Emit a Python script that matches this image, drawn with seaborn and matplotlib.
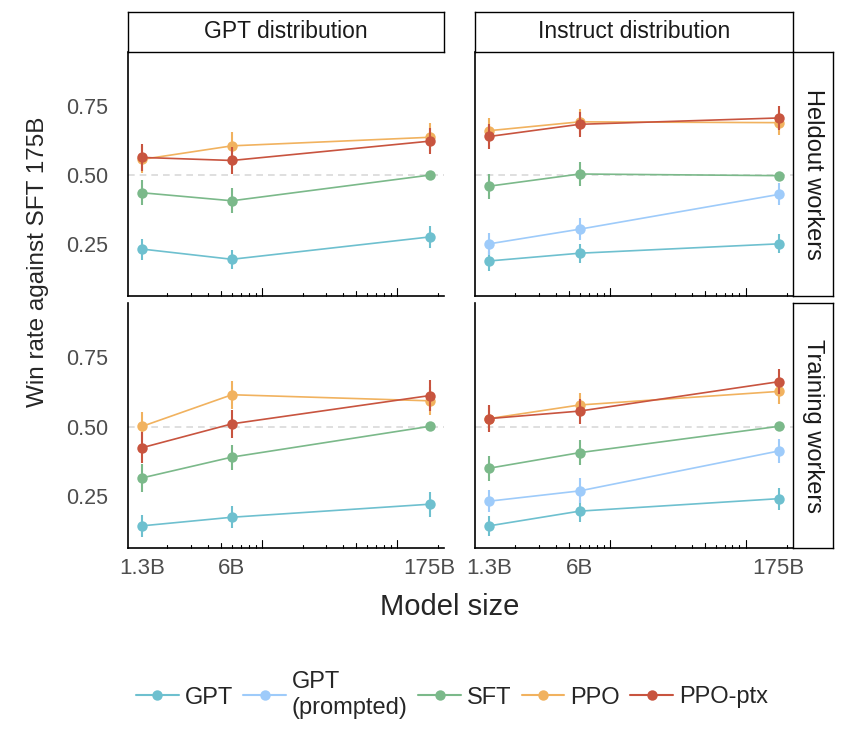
import matplotlib
matplotlib.use('Agg')
import matplotlib.pyplot as plt
import seaborn as sns
import numpy as np
import pandas as pd
from matplotlib.lines import Line2D
from matplotlib.ticker import NullLocator

# sizes on the x axis (billions of parameters)
sizes = [1.3, 6, 175]
size_labels = ['1.3B', '6B', '175B']
models = ['GPT', 'GPT (prompted)', 'SFT', 'PPO', 'PPO-ptx']
legend_labels = ['GPT', 'GPT\n(prompted)', 'SFT', 'PPO', 'PPO-ptx']
colors = ['#6EC0CF', '#9ECBFA', '#7BB98A', '#F1B25F', '#C8543F']
distributions = ['GPT distribution', 'Instruct distribution']
workers = ['Heldout workers', 'Training workers']

# win rate against SFT 175B, values for [1.3B, 6B, 175B]
gptdist_heldout = {'GPT': [0.232, 0.195, 0.276],
                   'SFT': [0.436, 0.407, 0.500],
                   'PPO': [0.557, 0.606, 0.637],
                   'PPO-ptx': [0.564, 0.553, 0.623]}
gptdist_heldout_err = {'GPT': [0.038, 0.035, 0.040],
                       'SFT': [0.045, 0.045, 0.0],
                       'PPO': [0.050, 0.050, 0.050],
                       'PPO-ptx': [0.050, 0.050, 0.047]}

instdist_heldout = {'GPT': [0.189, 0.217, 0.251],
                    'GPT (prompted)': [0.251, 0.304, 0.430],
                    'SFT': [0.460, 0.504, 0.498],
                    'PPO': [0.661, 0.693, 0.690],
                    'PPO-ptx': [0.640, 0.684, 0.707]}
instdist_heldout_err = {'GPT': [0.035, 0.035, 0.035],
                        'GPT (prompted)': [0.040, 0.040, 0.040],
                        'SFT': [0.045, 0.045, 0.0],
                        'PPO': [0.045, 0.045, 0.045],
                        'PPO-ptx': [0.045, 0.045, 0.045]}

gptdist_training = {'GPT': [0.142, 0.173, 0.220],
                    'SFT': [0.315, 0.390, 0.501],
                    'PPO': [0.501, 0.615, 0.593],
                    'PPO-ptx': [0.424, 0.510, 0.612]}
gptdist_training_err = {'GPT': [0.040, 0.040, 0.045],
                        'SFT': [0.050, 0.045, 0.0],
                        'PPO': [0.050, 0.050, 0.050],
                        'PPO-ptx': [0.055, 0.050, 0.055]}

instdist_training = {'GPT': [0.142, 0.195, 0.240],
                     'GPT (prompted)': [0.231, 0.268, 0.412],
                     'SFT': [0.350, 0.406, 0.501],
                     'PPO': [0.529, 0.578, 0.627],
                     'PPO-ptx': [0.529, 0.556, 0.662]}
instdist_training_err = {'GPT': [0.035, 0.040, 0.040],
                         'GPT (prompted)': [0.040, 0.045, 0.045],
                         'SFT': [0.045, 0.045, 0.0],
                         'PPO': [0.045, 0.045, 0.045],
                         'PPO-ptx': [0.050, 0.045, 0.045]}

panels = {(0, 0): (gptdist_heldout, gptdist_heldout_err),
          (0, 1): (instdist_heldout, instdist_heldout_err),
          (1, 0): (gptdist_training, gptdist_training_err),
          (1, 1): (instdist_training, instdist_training_err)}

rows = []
for (r, c), (vals, errs) in panels.items():
    for m in models:
        if m not in vals:
            continue
        for s, v, e in zip(sizes, vals[m], errs[m]):
            rows.append({'row': r, 'col': c, 'model': m, 'size': s, 'win': v, 'err': e})
df = pd.DataFrame(rows)

sns.set_style('white')
plt.rcParams['font.family'] = ['Liberation Sans', 'DejaVu Sans']

W, H = 862, 732
fig = plt.figure(figsize=(W / 100, H / 100), dpi=100)
palette = dict(zip(models, colors))


def px(x0, y0, x1, y1):
    return [x0 / W, 1 - y1 / H, (x1 - x0) / W, (y1 - y0) / H]


col_x = [(128, 444), (475, 793)]
row_y = [(52, 296), (303, 548)]
logticks = [v * d for d in (1, 10, 100) for v in range(2, 11) if 1.02 < v * d < 223]

for r in range(2):
    for c in range(2):
        ax = fig.add_axes(px(col_x[c][0], row_y[r][0], col_x[c][1], row_y[r][1]))
        ax.set_xscale('log')
        sub = df[(df['row'] == r) & (df['col'] == c)]
        ax.axhline(0.5, color='#D9D9D9', lw=1.2, ls=(0, (4, 3)), zorder=0)
        order = [m for m in models if m in set(sub['model'])]
        sns.lineplot(data=sub, x='size', y='win', hue='model', hue_order=order,
                     palette=palette, marker='o', markersize=7.5, markeredgewidth=0,
                     linewidth=1.2, legend=False, ax=ax, errorbar=None)
        for m in order:
            d = sub[sub['model'] == m]
            d = d[d['err'] > 0]
            ax.errorbar(d['size'], d['win'], yerr=d['err'], fmt='none',
                        ecolor=palette[m], elinewidth=1.5, capsize=0, zorder=3)
        ax.set_xlim(1.02, 223)
        ax.set_ylim(0.062, 0.946)
        ax.xaxis.set_minor_locator(NullLocator())
        ax.set_xticks(sizes)
        ax.set_xticklabels(size_labels)
        ax.set_yticks([0.25, 0.5, 0.75])
        ax.set_yticklabels(['0.25', '0.50', '0.75'])
        ax.tick_params(axis='both', direction='out', length=4, width=1.0,
                       color='#333333', labelcolor='#4D4D4D', labelsize=15.5, pad=3)
        ax.tick_params(axis='y', pad=10)
        if r == 0:
            ax.tick_params(axis='x', length=0, labelbottom=False)
        else:
            ax.tick_params(axis='x', labelsize=16)
        if c == 1:
            ax.tick_params(axis='y', length=0, labelleft=False)
        ax.set_xlabel('')
        ax.set_ylabel('')
        for sp in ['top', 'right']:
            ax.spines[sp].set_visible(False)
        for sp in ['left', 'bottom']:
            ax.spines[sp].set_color('black')
            ax.spines[sp].set_linewidth(1.2)
        # log ticks drawn inside the panel
        trans = ax.get_xaxis_transform()
        for v in logticks:
            mant = v / 10 ** np.floor(np.log10(v) + 1e-9)
            h = 0.034 if abs(mant - 1) < 1e-6 else (0.02 if abs(mant - 5) < 1e-6 else 0.012)
            ax.plot([v, v], [0, h], transform=trans, color='black', lw=0.8, clip_on=False)

# strips
for c in range(2):
    sa = fig.add_axes(px(col_x[c][0], 12, col_x[c][1], 52))
    sa.set_xticks([])
    sa.set_yticks([])
    for sp in sa.spines.values():
        sp.set_color('black')
        sp.set_linewidth(1.0)
    sa.text(0.5, 0.5, distributions[c], ha='center', va='center', fontsize=16.5,
            color='#1A1A1A', transform=sa.transAxes)
for r in range(2):
    sa = fig.add_axes(px(793, row_y[r][0], 833, row_y[r][1]))
    sa.set_xticks([])
    sa.set_yticks([])
    for sp in sa.spines.values():
        sp.set_color('black')
        sp.set_linewidth(1.0)
    sa.text(0.5, 0.5, workers[r], ha='center', va='center', fontsize=17,
            rotation=-90, color='#1A1A1A', transform=sa.transAxes)

fig.text(38 / W, 1 - 262 / H, 'Win rate against SFT 175B', rotation=90,
         ha='center', va='center', fontsize=17.5)
fig.text(450 / W, 1 - 607 / H, 'Model size', ha='center', va='center', fontsize=21)

handles = [Line2D([0], [0], color=col, marker='o', markersize=7.5, markeredgewidth=0, lw=1.5)
           for col in colors]
fig.legend(handles, legend_labels, loc='center', bbox_to_anchor=(452 / W, 1 - 695 / H),
           ncol=5, frameon=False, fontsize=17, handlelength=1.8, handletextpad=0.25,
           columnspacing=0.45)

fig.savefig('out.png', dpi=100)
